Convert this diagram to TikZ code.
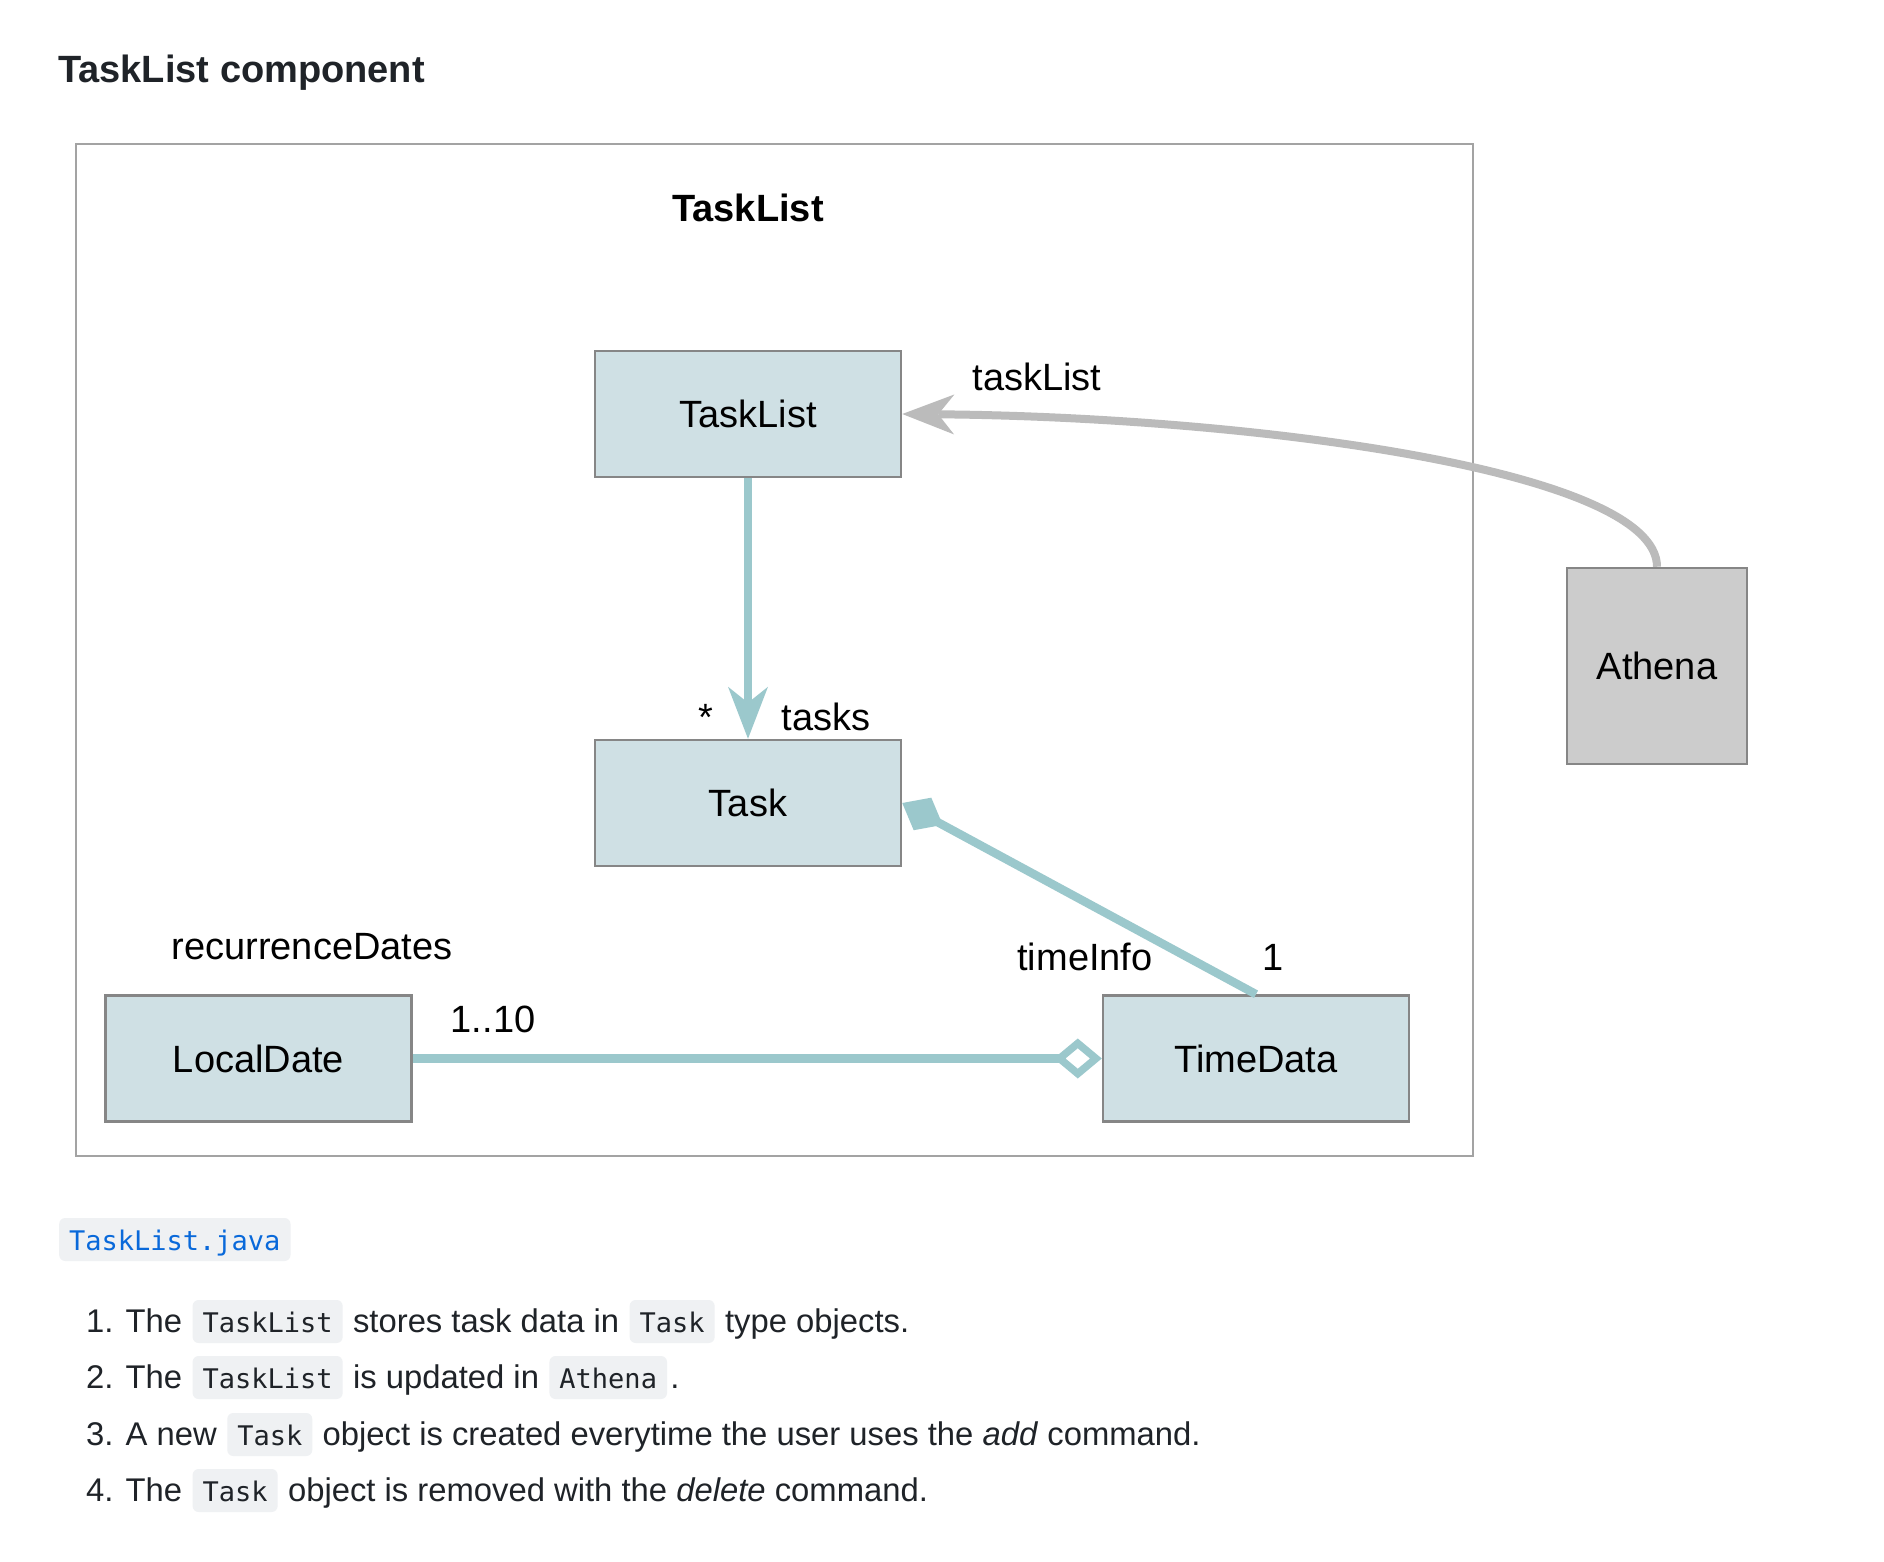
\documentclass[tikz,border=0pt]{standalone}
\usepackage{fontspec}
\setmainfont{Liberation Sans}
\newfontfamily\codefont{DejaVu Sans Mono}
\usepackage{xcolor}
\usepackage{tikz}
\usetikzlibrary{arrows.meta}
\definecolor{clsblue}{HTML}{CFE0E4}
\definecolor{clsgray}{HTML}{CCCCCC}
\definecolor{clsborder}{HTML}{868686}
\definecolor{relteal}{HTML}{9BC8CC}
\definecolor{relgray}{HTML}{BBBBBB}
\definecolor{framegray}{HTML}{A3A3A3}
\definecolor{ghtext}{HTML}{1F2328}
\definecolor{ghcode}{HTML}{EFF1F3}
\definecolor{ghlink}{HTML}{0969DA}

\begin{document}
\begin{tikzpicture}[x=1pt,y=-1pt,
  cls/.style={draw=clsborder,line width=2.5pt,fill=clsblue,inner sep=0pt,
    minimum width=306pt,minimum height=126pt,font=\fontsize{38}{46}\selectfont},
  lbl/.style={inner sep=0pt,anchor=base,font=\fontsize{38}{46}\selectfont},
  assoc/.style={draw=relteal,line width=8.5pt,
    -{Stealth[length=52pt,width=40pt,inset=16pt,line width=0pt]}},
  uses/.style={draw=relgray,line width=8pt,
    -{Stealth[length=52pt,width=40pt,inset=16pt,line width=0pt]}},
  comp/.style={draw=relteal,line width=8.5pt,
    -{Diamond[length=46pt,width=37pt,line width=0pt]}},
  aggr/.style={draw=relteal,line width=8.5pt,
    -{Diamond[length=48pt,width=40pt,fill=white,line width=7.5pt]}},
  txt/.style={inner sep=0pt,anchor=base west,text=ghtext,font=\fontsize{32.8}{38}\selectfont},
  code/.style={anchor=base west,fill=ghcode,rounded corners=6pt,inner xsep=10pt,
    inner ysep=10pt,text height=22pt,text depth=1pt,text=ghtext,
    font=\codefont\fontsize{27}{32}\selectfont}]
  \fill[white] (0,0) rectangle (1884,1562);
  \useasboundingbox (0,0) rectangle (1884,1562);

  % heading
  \node[txt,font=\bfseries\fontsize{38}{46}\selectfont] (heading) at (58,83) {TaskList component};

  % component frame
  \draw[framegray,line width=2pt] (76,144) rectangle (1473,1156);
  \node[lbl,font=\bfseries\fontsize{38}{46}\selectfont] (frametitle) at (748,222) {TaskList};

  % classes
  \node[cls] (tasklist) at (748,414) {TaskList};
  \node[cls] (task) at (748,803) {Task};
  \node[cls] (localdate) at (258.5,1058.5) {LocalDate};
  \node[cls] (timedata) at (1256,1058.5) {TimeData};
  \node[cls,fill=clsgray,minimum width=180pt,minimum height=196pt] (athena) at (1657,666) {Athena};

  % relations
  \draw[assoc] (tasklist.south) -- (task.north);
  \draw[comp] (timedata.north) -- (task.east);
  \draw[aggr] (localdate.east) -- (timedata.west);
  \draw[uses] (athena.north) .. controls (1657,470) and (1250,417) .. (tasklist.east);

  % role names and multiplicities
  \node[lbl] (tasklistrole) at (1037,390) {taskList};
  \node[lbl] (tasksmult) at (706,730) {*};
  \node[lbl] (tasksrole) at (826,730) {tasks};
  \node[lbl] (datesrole) at (312,959) {recurrenceDates};
  \node[lbl] (datesmult) at (493,1032) {1..10};
  \node[lbl] (inforole) at (1085,970) {timeInfo};
  \node[lbl] (infomult) at (1273,970) {1};

  % file link
  \node[code,text=ghlink] (javafile) at (59,1250) {TaskList.java};

  % notes
  \node[txt] (l1a) at (86,1332) {1. The};
  \node[code] (l1b) at ([xshift=10pt]l1a.base east) {TaskList};
  \node[txt] (l1c) at ([xshift=10pt]l1b.base east) {stores task data in};
  \node[code] (l1d) at ([xshift=10pt]l1c.base east) {Task};
  \node[txt] (l1e) at ([xshift=10pt]l1d.base east) {type objects.};

  \node[txt] (l2a) at (86,1388) {2. The};
  \node[code] (l2b) at ([xshift=10pt]l2a.base east) {TaskList};
  \node[txt] (l2c) at ([xshift=10pt]l2b.base east) {is updated in};
  \node[code] (l2d) at ([xshift=10pt]l2c.base east) {Athena};
  \node[txt] (l2e) at ([xshift=3pt]l2d.base east) {.};

  \node[txt] (l3a) at (86,1445) {3. A new};
  \node[code] (l3b) at ([xshift=10pt]l3a.base east) {Task};
  \node[txt] (l3c) at ([xshift=10pt]l3b.base east) {object is created everytime the user uses the \textit{add} command.};

  \node[txt] (l4a) at (86,1501) {4. The};
  \node[code] (l4b) at ([xshift=10pt]l4a.base east) {Task};
  \node[txt] (l4c) at ([xshift=10pt]l4b.base east) {object is removed with the \textit{delete} command.};
\end{tikzpicture}
\end{document}
